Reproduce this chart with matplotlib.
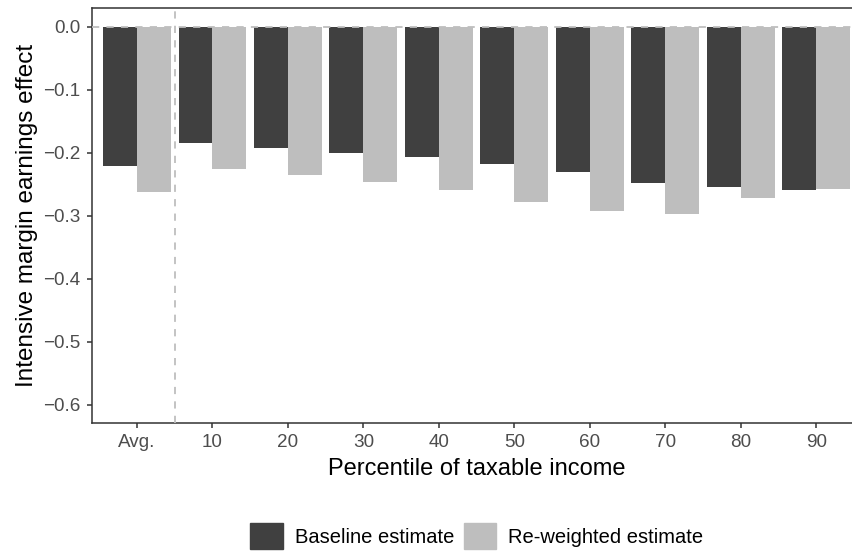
import matplotlib
matplotlib.use("Agg")
import matplotlib.pyplot as plt
from matplotlib.patches import Patch
import numpy as np

plt.rcParams['font.family'] = ['Liberation Sans', 'DejaVu Sans']

# data
categories = ["Avg.", "10", "20", "30", "40", "50", "60", "70", "80", "90"]
baseline = [-0.221, -0.184, -0.192, -0.200, -0.206, -0.218, -0.230, -0.248, -0.254, -0.259]
reweighted = [-0.262, -0.225, -0.235, -0.246, -0.259, -0.278, -0.292, -0.297, -0.271, -0.257]

dark = "#404040"
light = "#BEBEBE"

fig = plt.figure(figsize=(8.53, 5.53), dpi=100)
ax = fig.add_axes([91.7 / 853, 1 - 423 / 553, 770 / 853, 415 / 553])

x = np.arange(1, len(categories) + 1)
w = 0.45
ax.bar(x - w / 2, baseline, width=w, color=dark, zorder=2)
ax.bar(x + w / 2, reweighted, width=w, color=light, zorder=2)

# reference lines
ax.axhline(0, color="#BEBEBE", linestyle=(0, (4, 4)), linewidth=1.3, zorder=3)
ax.axvline(1.5, color="#BEBEBE", linestyle=(0, (4, 4)), linewidth=1.3, zorder=3)

ax.set_xlim(0.4, 10.6)
ax.set_ylim(-0.629, 0.03)
ax.set_xticks(x)
ax.set_xticklabels(categories)
ax.set_yticks([0.0, -0.1, -0.2, -0.3, -0.4, -0.5, -0.6])
ax.set_yticklabels(["0.0", "\u22120.1", "\u22120.2", "\u22120.3", "\u22120.4", "\u22120.5", "\u22120.6"])

for s in ax.spines.values():
    s.set_color("#333333")
    s.set_linewidth(1.1)
ax.tick_params(axis="both", colors="#333333", length=3.6, width=1.1,
               labelsize=13.6, labelcolor="#4D4D4D", pad=4.5)

ax.set_xlabel("Percentile of taxable income", fontsize=17, labelpad=5)
ax.set_ylabel("Intensive margin earnings effect", fontsize=17.5, labelpad=4)

handles = [Patch(color=dark, label="Baseline estimate"),
           Patch(color=light, label="Re-weighted estimate")]
fig.legend(handles=handles, loc="center", bbox_to_anchor=(477 / 853, 1 - 536 / 553),
           ncol=2, frameon=False, fontsize=14.5, handlelength=1.6, handleheight=1.6,
           handletextpad=0.6, columnspacing=0.5)

fig.savefig("out.png", dpi=100)
